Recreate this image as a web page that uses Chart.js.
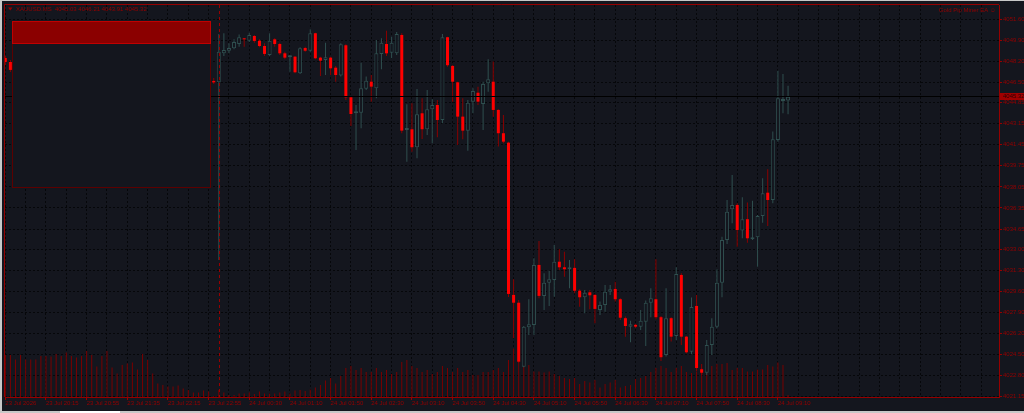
<!DOCTYPE html>
<html>
<head>
<meta charset="utf-8">
<title>XAUUSD.MS M5</title>
<script src="https://cdn.jsdelivr.net/npm/chart.js@4/dist/chart.umd.min.js"></script>
<style>
    html, body { margin: 0; padding: 0; background: #14161e; overflow: hidden; }
    #wrap { width: 1024px; height: 413px; }
</style>
</head>
<body>
<div id="wrap"><canvas id="chart" width="1024" height="413"></canvas></div>
<script>
// XAUUSD.MS, M5 bars (index 0 = 23 Jul 19:35). Bars 2..40 sit under the EA panel.
var opens = [4048.45, 4048.13,
    null, null, null, null, null, null, null, null, null, null, null, null, null,
    null, null, null, null, null, null, null, null, null, null, null, null, null,
    null, null, null, null, null, null, null, null, null, null, null, null, null,
    4046.60, 4046.49, 4048.83, 4049.04, 4049.24, 4049.58, 4050.04, 4049.85, 4050.23, 4049.85,
    4049.42, 4048.70, 4049.96, 4049.58, 4048.83, 4048.51, 4048.56, 4047.22, 4049.26, 4049.04,
    4050.45, 4048.48, 4048.29, 4048.48, 4047.67, 4047.03, 4049.48, 4045.28, 4043.99, 4044.04,
    4045.98, 4046.54, 4046.01, 4048.78, 4049.58, 4048.88, 4048.83, 4050.31, 4042.64, 4042.70,
    4041.25, 4043.99, 4042.70, 4044.31, 4044.66, 4043.45, 4050.13, 4047.81, 4046.49, 4043.72,
    4042.59, 4044.93, 4045.65, 4044.74, 4046.41, 4046.54, 4044.26, 4042.38, 4041.62, 4029.33,
    4028.70, 4023.54, 4026.72, 4026.91, 4031.75, 4029.25, 4030.32, 4030.54, 4032.01, 4031.56,
    4031.40, 4031.51, 4029.67, 4029.14, 4029.54, 4029.33, 4028.12, 4028.52, 4029.59, 4029.81,
    4028.98, 4027.45, 4026.77, 4026.91, 4026.77, 4027.17, 4028.70, 4028.98, 4027.53, 4024.48,
    4027.45, 4026.02, 4030.94, 4025.96, 4024.75, 4028.44, 4023.33, 4023.05, 4025.29, 4026.77,
    4030.32, 4033.77, 4036.24, 4036.59, 4034.52, 4035.44, 4033.82, 4033.98, 4035.70, 4037.58,
    4036.99, 4041.84, 4044.98, 4045.03];
var highs = [4048.62, 4048.29,
    null, null, null, null, null, null, null, null, null, null, null, null, null,
    null, null, null, null, null, null, null, null, null, null, null, null, null,
    null, null, null, null, null, null, null, null, null, null, null, null, null,
    4046.84, 4050.39, 4050.45, 4049.64, 4049.96, 4050.34, 4050.06, 4050.50, 4050.31, 4049.96,
    4049.64, 4050.45, 4050.04, 4049.69, 4048.96, 4048.70, 4048.62, 4049.32, 4049.37, 4050.77,
    4050.50, 4048.56, 4049.69, 4048.56, 4047.81, 4049.64, 4049.56, 4045.39, 4044.66, 4048.07,
    4046.95, 4047.08, 4049.91, 4050.04, 4050.66, 4050.17, 4050.55, 4050.45, 4044.72, 4044.80,
    4045.95, 4045.20, 4045.87, 4045.12, 4045.06, 4050.39, 4050.17, 4047.89, 4046.54, 4045.20,
    4045.06, 4046.01, 4046.14, 4046.54, 4048.35, 4048.16, 4044.31, 4043.85, 4041.70, 4030.59,
    4028.92, 4026.82, 4028.98, 4032.29, 4033.68, 4031.08, 4031.29, 4033.36, 4033.01, 4032.82,
    4032.15, 4032.21, 4029.79, 4029.73, 4029.73, 4029.38, 4028.79, 4030.13, 4030.13, 4030.40,
    4029.06, 4027.58, 4027.25, 4026.99, 4028.12, 4028.87, 4029.87, 4032.21, 4027.63, 4029.87,
    4027.53, 4031.56, 4031.08, 4026.02, 4029.12, 4029.33, 4023.76, 4025.69, 4027.45, 4031.40,
    4034.03, 4036.99, 4039.01, 4036.73, 4037.21, 4036.78, 4036.94, 4035.78, 4038.75, 4039.47,
    4042.51, 4047.43, 4047.16, 4046.21];
var lows = [4047.89, 4047.32,
    null, null, null, null, null, null, null, null, null, null, null, null, null,
    null, null, null, null, null, null, null, null, null, null, null, null, null,
    null, null, null, null, null, null, null, null, null, null, null, null, null,
    4046.36, 4032.15, 4048.62, 4048.83, 4049.16, 4049.37, 4049.37, 4049.75, 4049.69, 4049.32,
    4048.62, 4048.62, 4049.37, 4048.70, 4048.35, 4047.35, 4047.22, 4047.16, 4048.96, 4048.96,
    4048.35, 4047.00, 4047.08, 4047.08, 4046.54, 4046.95, 4045.06, 4042.97, 4041.03, 4042.78,
    4045.87, 4044.93, 4045.20, 4047.54, 4048.62, 4048.43, 4048.70, 4042.38, 4040.08, 4040.89,
    4040.36, 4041.92, 4042.24, 4041.57, 4042.05, 4043.18, 4047.75, 4044.93, 4041.43, 4041.89,
    4040.97, 4043.99, 4044.66, 4042.64, 4045.73, 4043.72, 4041.30, 4041.57, 4029.17, 4025.83,
    4023.84, 4023.49, 4026.10, 4026.10, 4029.06, 4028.12, 4028.44, 4029.19, 4031.34, 4030.80,
    4029.87, 4029.46, 4028.38, 4027.85, 4028.17, 4027.04, 4027.71, 4027.98, 4029.33, 4028.79,
    4027.31, 4025.96, 4025.51, 4026.66, 4026.50, 4025.21, 4027.53, 4027.37, 4024.00, 4024.35,
    4025.56, 4025.69, 4025.29, 4024.62, 4024.56, 4023.19, 4022.87, 4022.87, 4024.48, 4026.64,
    4029.14, 4033.44, 4035.11, 4033.22, 4033.90, 4033.55, 4033.77, 4031.61, 4035.16, 4034.90,
    4036.73, 4041.70, 4043.99, 4043.91];
var closes = [4048.13, 4047.49,
    null, null, null, null, null, null, null, null, null, null, null, null, null,
    null, null, null, null, null, null, null, null, null, null, null, null, null,
    null, null, null, null, null, null, null, null, null, null, null, null, null,
    4046.48, 4048.96, 4049.10, 4049.26, 4049.75, 4050.13, 4049.96, 4050.31, 4049.83, 4049.42,
    4048.78, 4049.85, 4049.58, 4048.83, 4048.48, 4048.62, 4047.30, 4049.24, 4049.04, 4050.45,
    4048.43, 4048.24, 4048.51, 4047.62, 4047.08, 4049.56, 4045.28, 4043.93, 4044.12, 4046.01,
    4046.62, 4046.14, 4048.83, 4049.69, 4048.83, 4049.69, 4050.39, 4042.59, 4042.75, 4041.25,
    4043.91, 4042.70, 4044.31, 4044.66, 4043.45, 4050.13, 4047.87, 4046.54, 4043.72, 4042.59,
    4044.85, 4045.79, 4044.93, 4046.36, 4046.74, 4044.26, 4042.38, 4041.70, 4029.41, 4028.70,
    4023.94, 4026.77, 4026.96, 4031.75, 4029.25, 4030.32, 4030.59, 4032.01, 4031.56, 4031.40,
    4031.56, 4029.67, 4029.14, 4029.51, 4029.30, 4028.20, 4028.52, 4029.59, 4029.79, 4028.98,
    4027.49, 4026.82, 4026.96, 4026.77, 4027.25, 4028.70, 4029.06, 4027.53, 4024.30, 4027.45,
    4025.96, 4031.02, 4025.96, 4024.70, 4028.36, 4023.43, 4023.05, 4025.29, 4026.77, 4030.32,
    4033.77, 4036.05, 4036.59, 4034.57, 4035.44, 4033.90, 4033.98, 4035.70, 4037.53, 4036.99,
    4041.89, 4045.20, 4045.06, 4045.32];
// tick volume
var volumes = [840, 840, 750, 840, 750, 750, 750, 820, 820, 810,
    860, 820, 890, 820, 790, 820, 920, 840, 610, 820,
    920, 590, 470, 640, 670, 690, 550, 860, 740, 470,
    270, 240, 210, 210, 230, 170, 140, 90, 90, 130,
    110, 20, 140, 90, 40, 40, 70, 70, 90, 60,
    110, 70, 70, 70, 90, 110, 70, 130, 140, 120,
    150, 190, 240, 330, 380, 270, 420, 580, 620, 540,
    580, 500, 500, 580, 500, 540, 460, 500, 700, 740,
    620, 580, 500, 540, 460, 500, 620, 580, 500, 580,
    500, 540, 440, 440, 500, 500, 540, 580, 500, 740,
    970, 700, 670, 640, 510, 510, 490, 510, 460, 420,
    380, 360, 380, 260, 320, 290, 340, 190, 260, 290,
    340, 190, 220, 240, 360, 380, 420, 500, 580, 620,
    580, 500, 580, 620, 500, 480, 510, 580, 610, 620,
    660, 660, 680, 540, 580, 580, 510, 510, 550, 550,
    640, 610, 690, 640, 40];

var xLabels = ['23 Jul 2026', '23 Jul 20:15', '23 Jul 20:55', '23 Jul 21:35', '23 Jul 22:15',
    '23 Jul 22:55', '24 Jul 00:30', '24 Jul 01:10', '24 Jul 01:50', '24 Jul 02:30',
    '24 Jul 03:10', '24 Jul 03:50', '24 Jul 04:30', '24 Jul 05:10', '24 Jul 05:50',
    '24 Jul 06:30', '24 Jul 07:10', '24 Jul 07:50', '24 Jul 08:30', '24 Jul 09:10'];
var xLabelBars = [0, 8, 16, 24, 32, 40, 48, 56, 64, 72, 80, 88, 96, 104, 112, 120, 128, 136, 144, 152];
var priceTicks = ['4051.60', '4049.90', '4048.20', '4046.50', '4044.85', '4043.15', '4041.45',
    '4039.75', '4038.05', '4036.35', '4034.65', '4033.00', '4031.30', '4029.60', '4027.90',
    '4026.20', '4024.50', '4022.80', '4021.15'];
var separatorBars = [42]; // 24 Jul 00:00

var bg = '#14161e';
var fg = '#950000';
var gridColor = '#06070a';
var bullColor = '#2f4f4f';
var bearWick = '#8b0000';
var bearBody = '#ff0000';
var volColor = '#7a0000';
var fontFamily = "'Liberation Sans', Arial, sans-serif";

var wickUp = [], wickDown = [], bodyUp = [], bodyDown = [], volData = [];
for (var i = 0; i < closes.length; i++) {
    volData.push({ x: i, y: volumes[i] });
    if (opens[i] === null) continue;
    var up = closes[i] >= opens[i];
    (up ? wickUp : wickDown).push({ x: i, y: [lows[i], highs[i]] });
    (up ? bodyUp : bodyDown).push({ x: i, y: [opens[i], closes[i]] });
}

var gridBars = [];
for (var g = 0; g <= 192; g += 4) gridBars.push(g);

// background, separators, bid line, EA panel and header texts
var terminalPlugin = {
    id: 'terminal',
    beforeDraw: function (chart) {
        var ctx = chart.ctx;
        ctx.save();
        ctx.fillStyle = bg;
        ctx.fillRect(0, 0, chart.width, chart.height);
        ctx.restore();
    },
    afterDatasetsDraw: function (chart) {
        var ctx = chart.ctx, a = chart.chartArea;
        var xs = chart.scales.x, ys = chart.scales.y;
        var last = closes.length - 1;
        ctx.save();

        // period separators
        ctx.strokeStyle = '#990000';
        ctx.lineWidth = 1;
        ctx.setLineDash([3, 3]);
        separatorBars.forEach(function (b) {
            var x = Math.round(xs.getPixelForValue(b)) + 0.5;
            ctx.beginPath();
            ctx.moveTo(x, a.top);
            ctx.lineTo(x, a.bottom);
            ctx.stroke();
        });
        ctx.setLineDash([]);

        // bid line
        var by = Math.round(ys.getPixelForValue(closes[last])) - 0.5;
        ctx.strokeStyle = '#000000';
        ctx.beginPath();
        ctx.moveTo(a.left, by);
        ctx.lineTo(a.right, by);
        ctx.stroke();

        // EA panel
        ctx.fillStyle = bg;
        ctx.fillRect(13, 22, 197, 165);
        ctx.strokeStyle = '#5c0000';
        ctx.strokeRect(12.5, 21.5, 198, 166);
        ctx.fillStyle = '#8b0000';
        ctx.fillRect(13, 22, 197, 21);
        ctx.strokeStyle = '#c00000';
        ctx.strokeRect(12.5, 21.5, 198, 22);

        // frame top / left
        ctx.strokeStyle = fg;
        ctx.beginPath();
        ctx.moveTo(a.left - 0.5, a.top - 0.5);
        ctx.lineTo(a.right, a.top - 0.5);
        ctx.moveTo(a.left - 0.5, a.top - 0.5);
        ctx.lineTo(a.left - 0.5, a.bottom);
        ctx.stroke();

        // symbol line
        ctx.fillStyle = fg;
        ctx.beginPath();
        ctx.moveTo(8, 7.5);
        ctx.lineTo(12.5, 7.5);
        ctx.lineTo(10.25, 10.5);
        ctx.closePath();
        ctx.fill();
        ctx.font = '6px ' + fontFamily;
        ctx.textBaseline = 'middle';
        ctx.textAlign = 'left';
        var ohlc = [opens[last], highs[last], lows[last], closes[last]].map(function (v) { return v.toFixed(2); });
        ctx.fillText('XAUUSD.MS  ' + ohlc.join(' '), 16, 9);
        ctx.textAlign = 'right';
        ctx.fillText('Gold Pip Miner EA \u263A', 996, 10);

        // bid price label
        ctx.fillStyle = '#a00000';
        ctx.fillRect(1000, by - 3.5, 24, 7);
        ctx.fillStyle = '#2a0000';
        ctx.textAlign = 'left';
        ctx.fillText(closes[last].toFixed(2), 1003, by);

        // window edges
        ctx.fillStyle = '#c8c8c8';
        ctx.fillRect(0, 0, chart.width, 1);
        ctx.fillRect(0, 0, 2, chart.height);
        ctx.fillRect(0, 411, chart.width, 2);
        ctx.fillStyle = '#ffffff';
        ctx.fillRect(60, 411, 60, 2);
        ctx.restore();
    }
};

var ctx = document.getElementById('chart').getContext('2d');
var chart = new Chart(ctx, {
    type: 'bar',
    data: {
        datasets: [{
            label: 'Volume', data: volData, yAxisID: 'v', backgroundColor: volColor,
            barThickness: 1, grouped: false, inflateAmount: 0, order: 5
        }, {
            label: 'Wick up', data: wickUp, yAxisID: 'y', backgroundColor: bullColor,
            barThickness: 1, grouped: false, inflateAmount: 0, order: 4
        }, {
            label: 'Wick down', data: wickDown, yAxisID: 'y', backgroundColor: bearWick,
            barThickness: 1, grouped: false, inflateAmount: 0, order: 3
        }, {
            label: 'Bull', data: bodyUp, yAxisID: 'y', backgroundColor: bg, borderColor: bullColor,
            borderWidth: 1, borderSkipped: false, barThickness: 4, minBarLength: 2,
            grouped: false, inflateAmount: 0, order: 2
        }, {
            label: 'Bear', data: bodyDown, yAxisID: 'y', backgroundColor: bearBody,
            barThickness: 3, minBarLength: 1, grouped: false, inflateAmount: 0, order: 1
        }]
    },
    options: {
        responsive: false,
        animation: false,
        devicePixelRatio: 1,
        layout: { padding: { left: 5, top: 5, right: 0, bottom: 0 } },
        plugins: { legend: { display: false }, tooltip: { enabled: false } },
        scales: {
            x: {
                type: 'linear', min: -0.06, max: 195.5, offset: false,
                grid: {
                    color: gridColor, offset: false, tickLength: 3, tickBorderDash: [],
                    tickColor: function (c) { return xLabelBars.indexOf(c.tick.value) >= 0 ? fg : 'rgba(0,0,0,0)'; }
                },
                border: { display: true, color: fg, dash: [2, 2] },
                ticks: {
                    autoSkip: false, maxRotation: 0, minRotation: 0, align: 'start', padding: 0,
                    color: fg, font: { family: fontFamily, size: 6 },
                    callback: function (v) {
                        var k = xLabelBars.indexOf(v);
                        return k >= 0 ? xLabels[k] : '';
                    }
                },
                afterBuildTicks: function (s) {
                    s.ticks = gridBars.map(function (b) { return { value: b }; });
                },
                afterFit: function (s) { s.height = 16; }
            },
            y: {
                position: 'right', min: 4021.09, max: 4052.73,
                grid: { color: gridColor, tickLength: 3, tickColor: fg, tickBorderDash: [] },
                border: { display: true, color: fg, dash: [2, 2] },
                ticks: {
                    autoSkip: false, padding: 1, color: fg, font: { family: fontFamily, size: 6 },
                    callback: function (v) {
                        for (var k = 0; k < priceTicks.length; k++) {
                            if (Math.abs(parseFloat(priceTicks[k]) - v) < 0.001) return priceTicks[k];
                        }
                        return '';
                    }
                },
                afterBuildTicks: function (s) {
                    s.ticks = priceTicks.map(function (t) { return { value: parseFloat(t) }; });
                },
                afterFit: function (s) { s.width = 25; }
            },
            v: { display: false, min: 0, max: 7840 }
        }
    },
    plugins: [terminalPlugin]
});
</script>
</body>
</html>
